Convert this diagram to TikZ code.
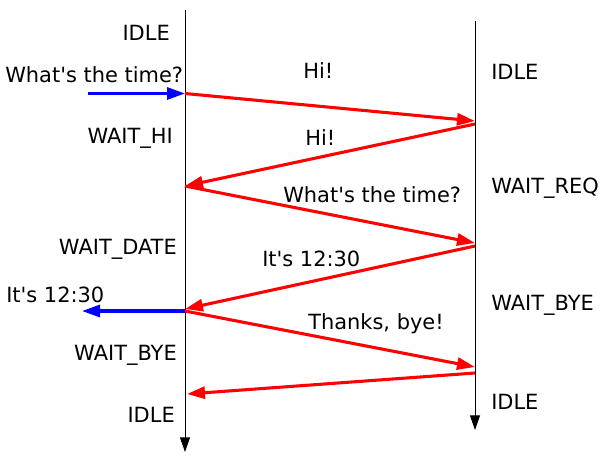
\documentclass[tikz,border=0pt]{standalone}
\usepackage{fontspec}
\setmainfont{DejaVu Sans}
\usetikzlibrary{arrows.meta}

\begin{document}
\begin{tikzpicture}[
    x=0.75pt, y=-0.75pt,
    state/.style={inner sep=0pt, font=\fontsize{15.7}{18}\selectfont},
    label/.style={inner sep=0pt, font=\fontsize{15.7}{18}\selectfont, anchor=base west},
    lifeline/.style={-{Triangle[length=11pt, width=7.5pt]}, black, line width=0.75pt},
    msg/.style={-{Triangle[length=13.5pt, width=9pt]}, red, line width=2.3pt},
    user/.style={-{Triangle[length=13.5pt, width=9pt]}, blue, line width=2.3pt}
]
\useasboundingbox (0,0) rectangle (607,455);

% =====================
% Lifelines: client (left), server (right)
% =====================
\coordinate (clienttop) at (185,10);
\coordinate (clientbot) at (185,452);
\coordinate (servertop) at (475,21);
\coordinate (serverbot) at (475,430);

% =====================
% Message end points
% =====================
\coordinate (userin)  at (88,93.5);
\coordinate (c1) at (185,93.5);
\coordinate (s1) at (475,121);
\coordinate (s2) at (475,124);
\coordinate (c2) at (185,186);
\coordinate (s3) at (475,243);
\coordinate (s4) at (475,246);
\coordinate (c3) at (185,309);
\coordinate (c3b) at (185,311);
\coordinate (userout) at (82,311);
\coordinate (s5) at (475,367);
\coordinate (s6) at (475,373);
\coordinate (c4) at (187,394);

% =====================
% Client states
% =====================
\node[state, anchor=base east] (cidle) at (170,40) {IDLE};
\node[state, anchor=base west] (ask) at (5,82) {What\textquotesingle s the time?};
\node[state, anchor=base east] (waithi) at (173,143) {WAIT\_HI};
\node[state, anchor=base east] (waitdate) at (177,254) {WAIT\_DATE};
\node[state, anchor=base west] (answer) at (6,302) {It\textquotesingle s 12:30};
\node[state, anchor=base east] (cwaitbye) at (177,360) {WAIT\_BYE};
\node[state, anchor=base east] (cidleend) at (175,422) {IDLE};

% =====================
% Server states
% =====================
\node[state, anchor=base west] (sidle) at (491,79) {IDLE};
\node[state, anchor=base west] (waitreq) at (491,193) {WAIT\_REQ};
\node[state, anchor=base west] (swaitbye) at (491,310) {WAIT\_BYE};
\node[state, anchor=base west] (sidleend) at (491,409) {IDLE};

% =====================
% Message labels
% =====================
\node[label] (hi1) at (303,78) {Hi!};
\node[label] (hi2) at (305,145) {Hi!};
\node[label] (req) at (283,202) {What\textquotesingle s the time?};
\node[label] (date) at (262,266) {It\textquotesingle s 12:30};
\node[label] (bye) at (308,329) {Thanks, bye!};

% =====================
% Arrows
% =====================
\draw[lifeline] (clienttop) -- (clientbot);
\draw[lifeline] (servertop) -- (serverbot);

\draw[user] (userin) -- (c1);
\draw[msg] (c1) -- (s1);
\draw[msg] (s2) -- (c2);
\draw[msg] (c2) -- (s3);
\draw[msg] (s4) -- (c3);
\draw[user] (c3b) -- (userout);
\draw[msg] (c3b) -- (s5);
\draw[msg] (s6) -- (c4);

\end{tikzpicture}
\end{document}
